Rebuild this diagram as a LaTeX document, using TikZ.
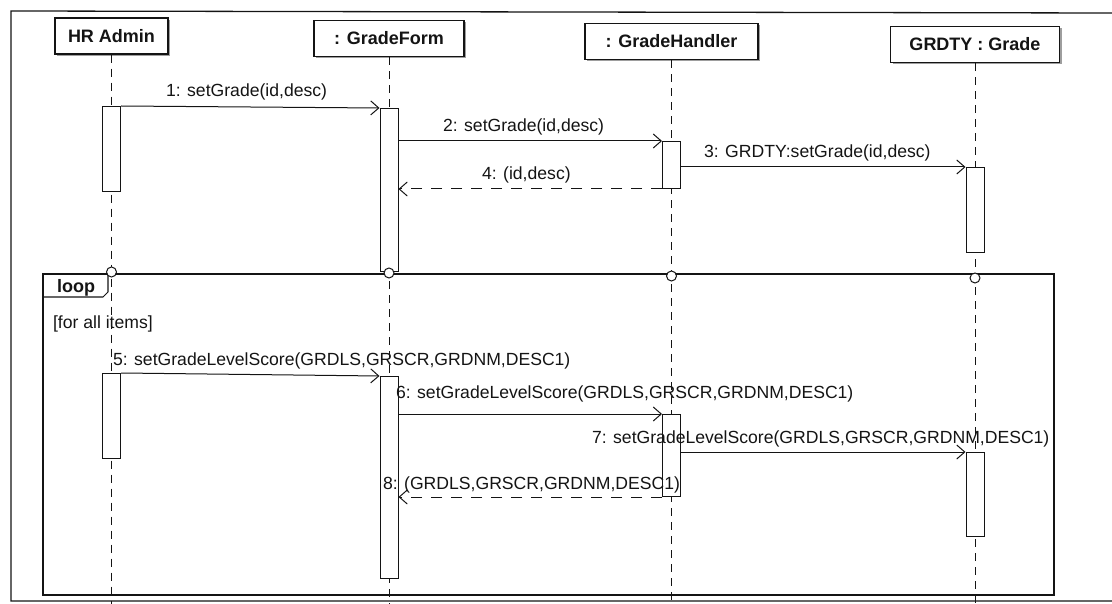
\documentclass[tikz,border=0pt]{standalone}
\usepackage{fontspec}
\setmainfont{Liberation Sans}
\usetikzlibrary{arrows.meta,shadows}
\definecolor{SeqInk}{gray}{0.08}
\definecolor{SeqShade}{gray}{0.62}
\tikzset{
    seq/diagram/.style={
        x=1pt, y=-1pt,
        font=\fontsize{17.6}{20}\selectfont,
        draw=SeqInk,
        text=SeqInk,
        line width=1pt,
        line join=miter
    },
    seq/border/.style={draw=SeqInk, line width=1.3pt},
    seq/head/.style={
        draw=SeqInk, fill=white, line width=1.1pt,
        font=\fontsize{18}{20}\selectfont\bfseries,
        minimum height=36pt, inner sep=2pt,
        drop shadow={shadow xshift=2pt, shadow yshift=-2pt,
            fill=SeqShade, opacity=1}
    },
    seq/life/.style={draw=SeqInk, line width=1pt, dash pattern=on 8pt off 6pt},
    seq/act/.style={
        draw=SeqInk, fill=white, line width=1pt,
        minimum width=18pt, inner sep=0pt, anchor=north
    },
    seq/frame/.style={draw=SeqInk, line width=1.05pt},
    seq/gate/.style={
        circle, draw=SeqInk, fill=white, line width=1pt,
        minimum size=10pt, inner sep=0pt
    },
    seq/call/.style={
        draw=SeqInk, line width=1pt,
        -{Straight Barb[length=8pt, width=14pt, line width=1pt]}
    },
    seq/reply/.style={
        draw=SeqInk, line width=1pt, dash pattern=on 11pt off 9pt,
        -{Straight Barb[length=8pt, width=14pt, line width=1pt]}
    },
    seq/label/.style={anchor=base west, inner sep=0pt, outer sep=0pt}
}
\begin{document}
\begin{tikzpicture}[seq/diagram]
    \useasboundingbox (0,0) rectangle (1112,604);
    \draw[seq/border] (1112,13) -- (11,11) -- (11,601) -- (1112,601);

    \node[seq/head, minimum width=113pt] (hr) at (111.5,36) {HR Admin};
    \node[seq/head, minimum width=150pt] (gf) at (389,38.5) {: GradeForm};
    \node[seq/head, minimum width=173pt] (gh) at (671.5,41.5) {: GradeHandler};
    \node[seq/head, minimum width=169pt] (gt) at (975,44.5) {GRDTY : Grade};

    \coordinate (hrEnd) at (hr.south |- 0,604);
    \coordinate (gfEnd) at (gf.south |- 0,604);
    \coordinate (ghEnd) at (gh.south |- 0,604);
    \coordinate (gtEnd) at (gt.south |- 0,604);
    \draw[seq/life] (hr.south) -- (hrEnd);
    \draw[seq/life] (gf.south) -- (gfEnd);
    \draw[seq/life] (gh.south) -- (ghEnd);
    \draw[seq/life] (gt.south) -- (gtEnd);

    \draw[seq/frame] (43,274) rectangle (1054,595);
    \draw[seq/frame] (43,297) -- (103,297) -- (108,292) -- (108,274);
    \node[font=\fontsize{18}{20}\selectfont\bfseries, anchor=base] (looptag) at (76,293) {loop};
    \node[seq/label] (guard) at (53,328) {[for all items]};

    \node[seq/act, minimum height=85pt] (hr1) at (hr.south |- 0,106) {};
    \node[seq/act, minimum height=163pt] (gf1) at (gf.south |- 0,108) {};
    \node[seq/act, minimum height=47pt] (gh1) at (gh.south |- 0,141) {};
    \node[seq/act, minimum height=85pt] (gt1) at (gt.south |- 0,167) {};
    \node[seq/act, minimum height=85pt] (hr2) at (hr.south |- 0,373) {};
    \node[seq/act, minimum height=202pt] (gf2) at (gf.south |- 0,376) {};
    \node[seq/act, minimum height=82pt] (gh2) at (gh.south |- 0,414) {};
    \node[seq/act, minimum height=84pt] (gt2) at (gt.south |- 0,452) {};

    \node[seq/gate] (hrGate) at (hr.south |- 0,272) {};
    \node[seq/gate] (gfGate) at (gf.south |- 0,273) {};
    \node[seq/gate] (ghGate) at (gh.south |- 0,276) {};
    \node[seq/gate] (gtGate) at (gt.south |- 0,278) {};

    \draw[seq/call] (hr1.north east) -- (gf1.north west);
    \draw[seq/call] (gf1.east |- gh1.north) -- (gh1.north west);
    \draw[seq/call] (gh1.east |- gt1.north) -- (gt1.north west);
    \draw[seq/reply] (gh1.south west) -- (gf1.east |- gh1.south west);
    \draw[seq/call] (hr2.north east) -- (gf2.north west);
    \draw[seq/call] (gf2.east |- gh2.north) -- (gh2.north west);
    \draw[seq/call] (gh2.east |- gt2.north) -- (gt2.north west);
    \draw[seq/reply] (gh2.south west) -- (gf2.east |- gh2.south west);

    \node[seq/label] (l1) at (166,97) {1: setGrade(id,desc)};
    \node[seq/label] (l2) at (443,132) {2: setGrade(id,desc)};
    \node[seq/label] (l3) at (704,158) {3: GRDTY:setGrade(id,desc)};
    \node[seq/label] (l4) at (482,180) {4: (id,desc)};
    \node[seq/label] (l5) at (113,365) {5: setGradeLevelScore(GRDLS,GRSCR,GRDNM,DESC1)};
    \node[seq/label] (l6) at (396,398) {6: setGradeLevelScore(GRDLS,GRSCR,GRDNM,DESC1)};
    \node[seq/label] (l7) at (592,443) {7: setGradeLevelScore(GRDLS,GRSCR,GRDNM,DESC1)};
    \node[seq/label] (l8) at (383,489) {8: (GRDLS,GRSCR,GRDNM,DESC1)};
\end{tikzpicture}
\end{document}
